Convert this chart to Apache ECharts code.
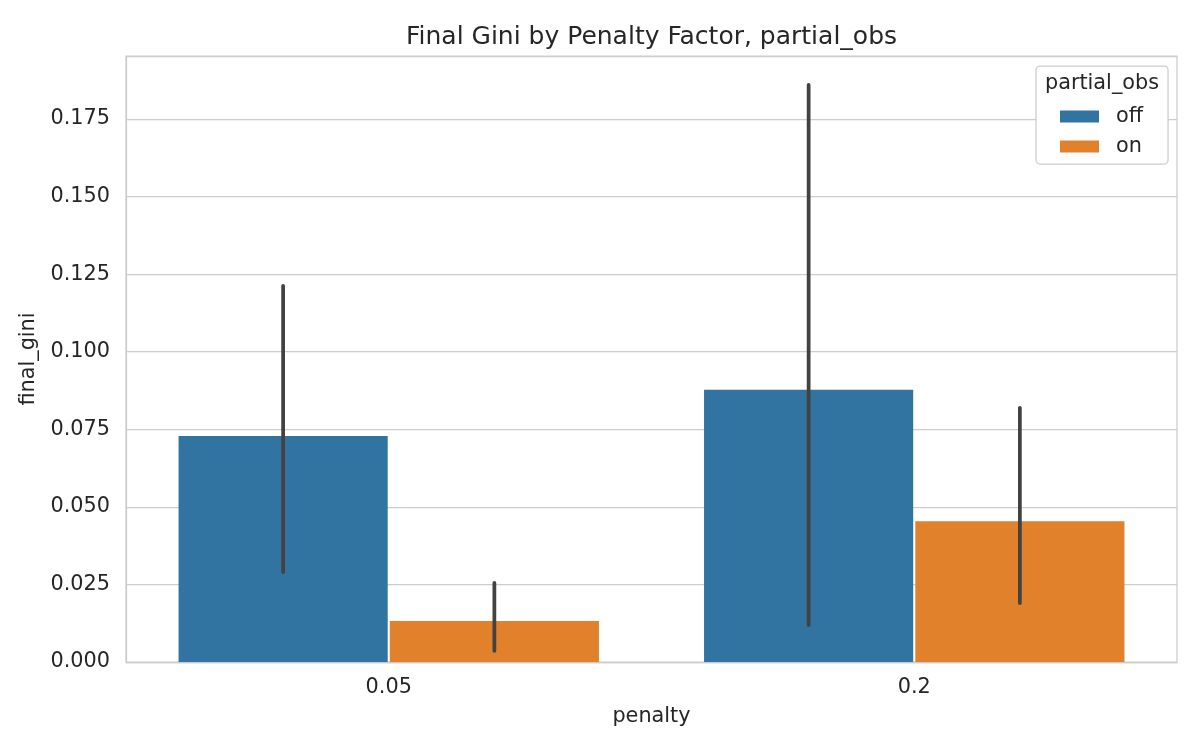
<!DOCTYPE html>
<html>
<head>
<meta charset="utf-8">
<script src="https://cdn.jsdelivr.net/npm/echarts@6/dist/echarts.min.js"></script>
<style>html,body{margin:0;padding:0;background:#fff}#c{width:1200px;height:750px}</style>
</head>
<body>
<div id="c"></div>
<script>
const categories = ['0.05', '0.2'];
const seriesNames = ['off', 'on'];
const offValues = [0.0728, 0.0877];
const onValues = [0.0132, 0.0454];
const offLow = [0.0290, 0.0119];
const offHigh = [0.1212, 0.1860];
const onLow = [0.0036, 0.0190];
const onHigh = [0.0255, 0.0819];
const yTicks = [0, 0.025, 0.05, 0.075, 0.1, 0.125, 0.15, 0.175];

const FONT = 'DejaVu Sans';
const TXT = '#262626';
const colors = ['#3274a1', '#e1812c'];

function errData(lo, hi) { return categories.map((c, i) => [i, lo[i], hi[i]]); }
function errSeries(name, lo, hi, off) {
  return {
    type: 'custom', name: name + '_err', z: 10, silent: true,
    data: errData(lo, hi),
    renderItem: function (params, api) {
      const cat = api.value(0);
      const p1 = api.coord([cat, api.value(1)]);
      const p2 = api.coord([cat, api.value(2)]);
      const bw = api.size([1, 0])[0];
      const x = p1[0] + off * bw;
      return { type: 'line', shape: { x1: x, y1: p1[1], x2: x, y2: p2[1] },
        style: { stroke: '#424242', lineWidth: 3.75, lineCap: 'round' } };
    }
  };
}
const chart = echarts.init(document.getElementById('c'));
const gw = 0.8 / 2.01;
chart.setOption({
  animation: false,
  backgroundColor: '#ffffff',
  title: {
    text: 'Final Gini by Penalty Factor, partial_obs',
    left: 646.5, top: 20, textAlign: 'center',
    textStyle: { fontFamily: FONT, fontSize: 25, fontWeight: 'normal', color: TXT }
  },
  graphic: [{
    type: 'text', z: 100, x: 1102, y: 84,
    style: { text: 'partial_obs', font: '20.8px "DejaVu Sans"', fill: TXT, textAlign: 'center', textVerticalAlign: 'middle' }
  }],
  legend: {
    data: seriesNames, orient: 'vertical', left: 1036, top: 66,
    padding: [40, 25, 7, 24], itemWidth: 39, itemHeight: 12, itemGap: 9,
    icon: 'rect', backgroundColor: '#ffffff', borderColor: '#cccccc', borderWidth: 1.25, borderRadius: 4,
    textStyle: { fontFamily: FONT, fontSize: 20.8, color: TXT, padding: [0, 0, 0, 12], lineHeight: 21 }
  },
  grid: { left: 126, right: 23, top: 56, bottom: 88, show: true, borderColor: '#cccccc', borderWidth: 1.25 },
  xAxis: {
    type: 'category', data: categories,
    name: 'penalty', nameLocation: 'middle', nameGap: 44,
    nameTextStyle: { fontFamily: FONT, fontSize: 20.8, color: TXT },
    axisLine: { show: true, lineStyle: { color: '#cccccc', width: 1.25 } },
    axisTick: { show: false }, splitLine: { show: false },
    axisLabel: { fontFamily: FONT, fontSize: 20.8, color: TXT, margin: 15 }
  },
  yAxis: {
    type: 'value', min: 0, max: 0.1953, interval: 0.025,
    name: 'final_gini', nameLocation: 'middle', nameGap: 77,
    nameTextStyle: { fontFamily: FONT, fontSize: 20.8, color: TXT },
    axisLine: { show: true, lineStyle: { color: '#cccccc', width: 1.25 } },
    axisTick: { show: false },
    splitLine: { show: true, lineStyle: { color: '#cccccc', width: 1.25 } },
    axisLabel: {
      fontFamily: FONT, fontSize: 20.8, color: TXT, margin: 16, showMaxLabel: false,
      formatter: function (v) {
        const ok = yTicks.some(t => Math.abs(t - v) < 1e-9);
        return ok ? v.toFixed(3) : '';
      }
    }
  },
  series: [
    { type: 'bar', name: 'off', data: offValues, barCategoryGap: '20%', barGap: '1%',
      itemStyle: { color: colors[0] } },
    { type: 'bar', name: 'on', data: onValues, barCategoryGap: '20%', barGap: '1%',
      itemStyle: { color: colors[1] } },
    errSeries('off', offLow, offHigh, -gw * 1.01 / 2),
    errSeries('on', onLow, onHigh, gw * 1.01 / 2)
  ]
});
</script>
</body>
</html>
